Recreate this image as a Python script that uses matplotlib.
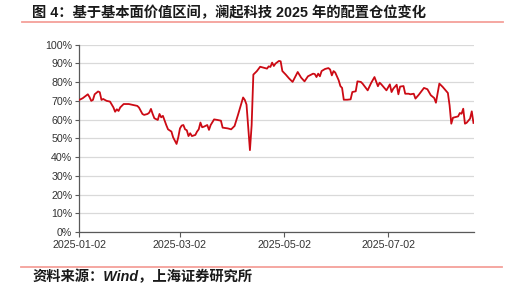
import numpy as np
import pandas as pd
import matplotlib
matplotlib.use("Agg")
import matplotlib.pyplot as plt
import matplotlib.dates as mdates
from matplotlib.ticker import MultipleLocator, FuncFormatter

# 数据: 距 2025-01-02 的天数, 仓位(%)
start = "2025-01-02"
days = [0, 2, 5, 6, 7, 8, 9, 11, 12, 13, 14, 16, 18, 20, 21, 22, 23, 24, 26, 29,
        34, 35, 37, 38, 40, 41, 42, 43, 44, 46, 47, 48, 49, 51, 52, 54, 55, 57, 58, 59,
        60, 61, 62, 63, 64, 65, 66, 68, 69, 70, 71, 72, 73, 75, 76, 77, 79, 81, 83, 84,
        87, 89, 91, 93, 96, 97, 98, 100, 101, 102, 104, 106, 108, 110, 111, 112, 113, 114, 115, 117,
        118, 119, 121, 123, 125, 128, 130, 132, 134, 137, 138, 139, 140, 141, 142, 144, 146, 147, 148, 149,
        150, 152, 153, 154, 155, 157, 159, 160, 162, 163, 165, 166, 169, 171, 173, 175, 176, 177, 180, 182,
        183, 184, 186, 187, 188, 190, 191, 193, 194, 196, 197, 199, 202, 204, 206, 208, 209, 211, 213, 216,
        217, 218, 219, 222, 223, 224, 225, 226, 227, 229, 230, 231]
pos = [70.5, 71.4, 73.5, 72.0, 70.0, 70.5, 73.5, 75.0, 74.6, 70.5, 71.0, 70.0, 69.6, 66.5, 64.2, 65.5, 64.6, 66.5, 68.3, 68.3,
       67.3, 66.4, 63.0, 62.5, 63.0, 63.7, 65.7, 63.0, 60.7, 59.8, 63.0, 61.2, 62.0, 57.0, 54.8, 53.6, 50.5, 47.0, 50.5, 55.3,
       56.8, 57.1, 54.8, 54.3, 51.2, 52.7, 51.2, 51.8, 53.6, 54.8, 58.4, 55.9, 56.2, 57.1, 54.5, 57.1, 60.1, 59.8, 59.4, 55.7,
       55.3, 54.8, 56.6, 62.5, 71.8, 70.5, 68.0, 43.7, 57.0, 84.0, 85.8, 88.2, 87.7, 87.2, 88.4, 88.1, 90.4, 88.6, 89.9, 91.3,
       91.1, 85.9, 84.0, 81.9, 80.1, 85.4, 82.4, 80.4, 83.1, 84.5, 84.3, 82.7, 84.5, 83.1, 85.9, 87.0, 87.5, 86.7, 83.6, 85.9,
       85.1, 81.0, 77.9, 76.9, 70.6, 70.6, 70.8, 74.7, 75.1, 80.4, 80.1, 79.2, 75.6, 79.5, 82.7, 77.8, 79.7, 78.8, 75.6, 78.8,
       74.7, 76.5, 78.6, 73.5, 77.6, 77.9, 73.8, 73.8, 73.5, 73.8, 71.2, 73.3, 76.9, 76.2, 73.0, 71.5, 69.0, 79.2, 77.4, 74.2,
       67.6, 57.8, 61.0, 61.7, 63.5, 63.1, 65.8, 57.8, 58.3, 60.5, 64.4, 58.2]
xticks = ["2025-01-02", "2025-03-02", "2025-05-02", "2025-07-02"]

t0 = pd.Timestamp(start)
dates = t0 + pd.to_timedelta(days, unit="D")

fig = plt.figure(figsize=(5.06, 2.96), dpi=100)
ax = fig.add_axes([0.1567, 0.2162, 0.7807, 0.633])

ax.plot(dates, pos, color="#CC0A14", lw=1.3, zorder=3)

ax.set_ylim(0, 100)
ax.set_xlim(t0, t0 + pd.Timedelta(days=231.5))
ax.yaxis.set_major_locator(MultipleLocator(10))
ax.yaxis.set_major_formatter(FuncFormatter(lambda v, p: f"{v:.0f}%"))
ax.set_xticks(pd.to_datetime(xticks))
ax.xaxis.set_major_formatter(mdates.DateFormatter("%Y-%m-%d"))

ax.grid(axis="y", color="#D9D9D9", lw=0.9, zorder=0)
ax.set_axisbelow(True)
for s in ["top", "right"]:
    ax.spines[s].set_visible(False)
for s in ["left", "bottom"]:
    ax.spines[s].set_color("#595959")
    ax.spines[s].set_linewidth(0.9)
ax.tick_params(axis="both", colors="#595959", labelcolor="#333333", labelsize=7.7, width=0.8)
ax.tick_params(axis="y", length=3, pad=2)
ax.tick_params(axis="x", length=3.5, pad=2)
for lb in ax.get_xticklabels() + ax.get_yticklabels():
    lb.set_fontfamily("Liberation Sans")

fam = ["Liberation Sans", "Noto Sans CJK SC"]
fig.text(0.064, 0.955, "图 4：基于基本面价值区间，澜起科技 2025 年的配置仓位变化",
         fontsize=10.3, fontweight="bold", family=fam, va="center", ha="left", color="#1a1a1a")
fig.text(0.064, 0.063, "资料来源：Wind，上海证券研究所",
         fontsize=10.3, fontweight="bold", style="italic", family=fam, va="center", ha="left", color="#1a1a1a")

fig.add_artist(plt.Line2D([0.043, 0.994], [1 - 22.3 / 296] * 2, color="#F4A09A", lw=1.3))
fig.add_artist(plt.Line2D([0.042, 0.992], [1 - 266.7 / 296] * 2, color="#F4A09A", lw=1.3))

fig.savefig("out.png", dpi=100)
